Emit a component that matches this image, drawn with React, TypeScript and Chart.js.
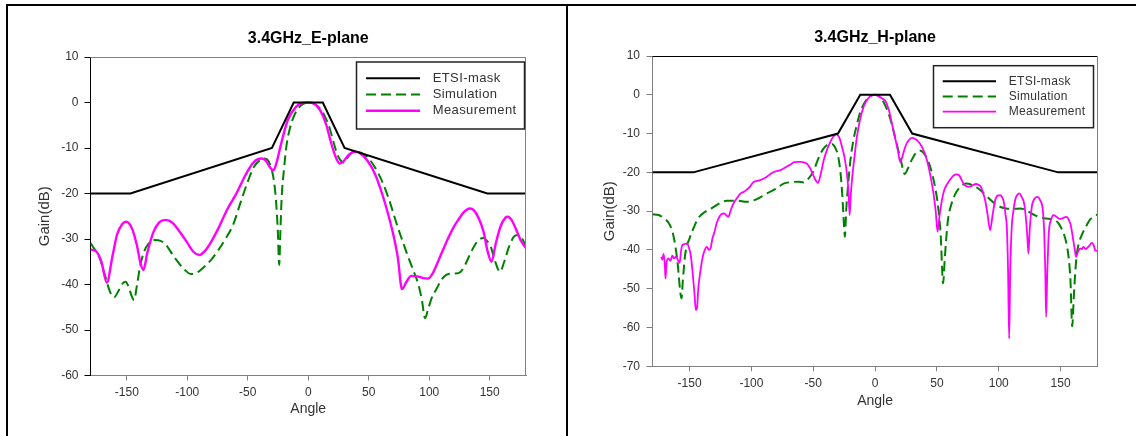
import { useEffect, useRef } from "react";
import { Chart, registerables } from "chart.js";

Chart.register(...registerables);

const FONT = "'Liberation Sans', Arial, Helvetica, sans-serif";

// ETSI radiation mask (angle in degrees, gain in dB)
const maskAngles = [-180, -147, -30, -12, 12, 30, 148, 180];
const maskGain = [-20, -20, -10, 0, 0, -10, -20, -20];

// E-plane, simulated pattern
const eSimAngles = [
  -180, -176, -172, -168, -164, -160.5, -157, -153.5, -151, -148.5, -146, -144, -141.5, -139, -136, -132,
  -127, -122, -117.5, -112, -107, -102, -97, -92, -86, -80, -74, -68, -62, -56, -50, -45, -40, -36, -33,
  -30.5, -28.5, -26.7, -25.2, -24, -23, -22, -20, -18, -15, -12, -8, -4, 0.5, 5, 10, 14, 17.5, 21, 24, 27,
  29.5, 32, 35.5, 39, 43, 49, 55, 61, 67, 73, 78, 82, 87, 91, 94, 96.5, 99, 102, 106, 110, 114, 118, 122,
  126, 130, 134, 138, 142, 145, 148, 151, 154, 158.5, 162, 166, 170, 173.5, 177, 180,
];
const eSimGain = [
  -30.9, -32.5, -34.5, -38, -41.5, -42.8, -41.5, -39.8, -39.4, -40.5, -42.5, -43.4, -40, -36, -33, -31,
  -30.2, -30.4, -31.3, -33.5, -35.3, -36.8, -37.7, -37.4, -36.1, -34.5, -32.3, -29.8, -26.8, -22, -17.4,
  -14.2, -12.7, -12.3, -12.8, -14.5, -17, -21.4, -28, -35.7, -28, -21, -14.5, -9.5, -5.5, -3.1, -1.2, -0.3,
  0, -0.3, -1.4, -3.2, -5.5, -8.8, -11.4, -12.8, -13.2, -12.3, -11.1, -10.8, -11, -12, -14.2, -17.3, -21.5,
  -26.6, -30.5, -33.5, -37, -40, -43.5, -47.4, -45.5, -43, -41, -39, -37.9, -37.6, -37.6, -37.2, -35.5,
  -33.2, -31.2, -30, -29.8, -30.5, -31.8, -34.5, -37.2, -35, -31.7, -29.5, -29.1, -30, -31.7,
];

// E-plane, measured pattern
const eMeasAngles = [
  -180, -175, -171, -166.5, -162, -158, -154, -150.5, -146, -142, -138.5, -136.3, -133, -128, -123, -118,
  -112, -106, -100, -95, -90, -85, -80, -74, -67, -59, -52, -46, -42, -38.5, -35, -31.5, -29, -26.5, -23,
  -17, -10, -5, 0, 5, 10, 15, 18, 22, 26, 29, 33, 37, 40, 44, 49, 55, 61, 66, 70, 74, 77.5, 81, 85, 90, 95,
  99, 103, 108, 115, 120, 124, 129, 133.5, 137, 141, 145, 148, 151.5, 155, 159, 163, 165, 168, 172, 176, 180,
];
const eMeasGain = [
  -32.3, -32.8, -35, -39.6, -34, -29, -26.8, -26.2, -27.5, -31, -35.5, -36.8, -33, -28.5, -26.3, -25.8,
  -26.5, -28.5, -30.8, -32.8, -33.5, -32.5, -30.5, -27.5, -23.5, -19.8, -16, -13.4, -12.5, -12.3, -12.8,
  -14.3, -14.9, -13.5, -9.7, -3.9, -0.9, -0.1, 0, -0.3, -1.8, -5, -8, -11.5, -13.4, -13, -11.6, -10.9,
  -10.8, -11.4, -12.8, -15.6, -20, -24.5, -28.7, -34, -41, -39.5, -38.1, -38.2, -38.6, -38.7, -37.5, -34.5,
  -30.2, -27.5, -25.8, -24, -23.3, -23.7, -25.5, -28.5, -32.4, -35, -31, -27.2, -25.3, -25.1, -25.8, -28,
  -30.5, -32,
];

// H-plane, simulated pattern
const hSimAngles = [
  -180, -175, -171, -167, -164, -161.5, -159.5, -157.5, -156.5, -155.5, -153.5, -150, -147, -143, -138,
  -132, -126.5, -120, -112, -103.5, -95, -87.4, -80, -74, -67, -62, -58, -55, -50, -46, -42, -38, -35, -32,
  -30, -28, -26.5, -25.3, -24.4, -23.4, -22, -20, -17.6, -15, -12, -9, -6, -3, 0, 3, 6, 9, 12, 15, 18, 21,
  24, 26.5, 29.4, 33, 36.8, 40, 42.6, 45, 48.5, 51, 53, 55, 56.2, 57.4, 59, 61.8, 64.5, 67.6, 73.5, 79.4,
  84, 88.2, 93, 97, 102, 106, 112, 117.6, 123, 129.4, 134, 138.2, 142, 145.6, 148, 150, 152.5, 154.5,
  156.5, 158, 159.4, 160.7, 162, 163.2, 165, 167.6, 170, 173.5, 177, 180,
];
const hSimGain = [
  -30.8, -31, -31.8, -33, -35.2, -39, -44, -51, -52.5, -48, -41, -37, -34.5, -31.8, -30.3, -29.2, -28.1,
  -27.3, -27.3, -27.6, -26.8, -25.4, -24.2, -22.9, -22.5, -22.4, -22.6, -22, -19.8, -16.5, -14, -12.8,
  -12.7, -13.8, -15.7, -20, -26, -33, -36.6, -30, -23.8, -17, -11.8, -8, -4.5, -2.3, -0.9, -0.2, 0, -0.3,
  -1.4, -3.3, -5.9, -9.5, -13.3, -17.2, -20.4, -19, -16.9, -15, -14.4, -15.3, -16.9, -19, -23.8, -29, -36,
  -48.6, -43, -37.5, -32, -28.1, -25.8, -24.2, -22.9, -23.4, -24.3, -25.5, -27, -28.1, -29, -29.3, -29.4,
  -29.3, -30, -31.1, -31.6, -31.9, -32, -32.3, -33, -34, -35.8, -38, -42, -48, -59.7, -52, -45, -40.9, -38,
  -35.8, -34.3, -32.3, -31.4, -30.8,
];

// H-plane, measured pattern (starts at -173 degrees)
const hMeasAngles = [
  -173, -172, -171, -170, -169.5, -168.5, -167, -165.5, -164, -162.5, -161, -159.5, -158, -157, -156, -154,
  -152, -150.5, -149, -147.5, -146, -145, -144, -143, -141.5, -139.5, -138, -136, -134.5, -133, -131.5,
  -130, -128, -126, -124, -122, -120, -118.5, -117, -115, -112, -109, -106, -103.5, -101, -98, -95, -93,
  -90, -87, -84, -82, -79, -76.5, -74, -71, -68, -66, -63, -60, -57, -55, -53, -51, -48.5, -46.2, -44,
  -41.5, -38.5, -36, -34, -31.4, -29, -26.8, -24.5, -22.8, -21.5, -20.6, -19.7, -18.7, -16.5, -14.7, -12,
  -9.3, -6, -3, 0, 3, 6, 8.3, 11, 13.6, 16, 18.5, 20.3, 22, 24.4, 27, 29.8, 32.5, 35.1, 38.5, 41.9, 44.5,
  47.2, 49, 50.5, 52, 54, 56, 58.5, 61, 63.5, 65.6, 68, 71.5, 74, 76.9, 79, 81.7, 83.5, 85.5, 87.5, 89, 91,
  93, 95, 97.1, 99, 101.1, 103, 104.3, 105.5, 106.5, 107.5, 108.4, 109.3, 110.5, 111.8, 113.2, 115, 116.7,
  118.5, 120.5, 122, 123, 124, 125, 126.7, 128.5, 131.2, 133.5, 135.6, 136.8, 137.6, 138.3, 139.2, 140.2,
  140.9, 142.5, 144.2, 146.9, 149, 150.9, 153, 155, 157, 158.2, 160, 161.5, 162.5, 164, 165.7, 167, 168.4,
  170, 171.1, 173, 175.2, 177, 178, 180,
];
const hMeasGain = [
  -41.8, -42.5, -41, -44, -47.4, -43, -42.2, -42.8, -41.5, -42.2, -41.7, -42.6, -43.3, -40.5, -38.8, -38.5,
  -38.3, -39.5, -41.5, -46, -51.5, -55.5, -55, -50, -46, -42, -40.2, -39.2, -40, -39.5, -37, -35.5, -33,
  -31.5, -30.7, -30.6, -31.2, -31.4, -30, -28.3, -26.8, -25.5, -25, -24.4, -23.6, -22.4, -22.2, -22,
  -21.6, -21, -20.3, -19.9, -19.6, -19.4, -19, -18.4, -17.9, -17.4, -17.3, -17.3, -17.5, -17.8, -18.7,
  -20, -21.8, -22.7, -20.5, -16.8, -13.8, -12, -10.9, -10.2, -11, -13.4, -16.5, -20.3, -25, -31, -26,
  -22, -15.5, -10.8, -6.2, -3.1, -1.1, -0.2, 0, -0.4, -1, -1.6, -3.8, -7.4, -10.8, -14.5, -17.3, -16,
  -13.4, -11.8, -11.1, -11.4, -12.1, -13.8, -16.8, -20.5, -25.4, -30, -35.3, -31.5, -27.2, -24.5, -22.9,
  -21.7, -20.8, -20.5, -20.8, -22.9, -23.6, -23.7, -23.3, -23, -23.2, -23.7, -25.5, -27.2, -31, -34.9,
  -31, -27.2, -26, -25.9, -26.6, -28, -31, -34, -45, -62.9, -45, -34, -30, -27.2, -25.8, -25.4, -26.3,
  -28, -32, -36, -40.9, -35, -28.9, -27, -26.3, -27.2, -29.7, -36, -45, -57.3, -46, -37, -34, -32, -31,
  -31.5, -32, -31.9, -31.6, -31.5, -32.5, -33.6, -37, -40, -41.8, -40.5, -39.6, -39.8, -39.2, -39.7,
  -39.6, -39, -38.2, -39, -40.2, -40.2,
];

// Axis ticks
const angleTicks = [-150, -100, -50, 0, 50, 100, 150];
const eGainTicks = [-60, -50, -40, -30, -20, -10, 0, 10];
const hGainTicks = [-70, -60, -50, -40, -30, -20, -10, 0, 10];

const seriesLabels = ["ETSI-mask", "Simulation", "Measurement"];

const toPoints = (xs: number[], ys: number[]) => xs.map((x, i) => ({ x, y: ys[i] }));

type PanelCfg = {
  title: string;
  left: number;
  width: number;
  padRight: number;
  yAxisWidth: number;
  xAxisHeight: number;
  titleTop: number;
  titleBottom: number;
  xTitleBottom: number;
  yTitleTop: number;
  yTickPad: number;
  yMin: number;
  yTicks: number[];
  yBorder: string;
  xBorder: string;
  topBorder: string;
  rightBorder: string;
  measWidth: number;
  sim: { x: number; y: number }[];
  meas: { x: number; y: number }[];
  legend: {
    x: number; y: number; w: number; h: number;
    firstY: number; gap: number;
    sx0: number; sx1: number; tx: number;
    fontSize: number; spacing: number;
  };
};

const panels: PanelCfg[] = [
  {
    title: "3.4GHz_E-plane",
    left: 8,
    width: 558,
    padRight: 40,
    yAxisWidth: 82.5,
    xAxisHeight: 60.5,
    titleTop: 29.4,
    titleBottom: 8.4,
    xTitleBottom: 18.6,
    yTitleTop: 27.4,
    yTickPad: 6,
    yMin: -60,
    yTicks: eGainTicks,
    yBorder: "#000000",
    xBorder: "#808080",
    topBorder: "#808080",
    rightBorder: "#808080",
    measWidth: 2.4,
    sim: toPoints(eSimAngles, eSimGain),
    meas: toPoints(eMeasAngles, eMeasGain),
    legend: {
      x: 348.5, y: 62, w: 168, h: 67,
      firstY: 78.3, gap: 16.2,
      sx0: 358, sx1: 412, tx: 424.7,
      fontSize: 13, spacing: 0.4,
    },
  },
  {
    title: "3.4GHz_H-plane",
    left: 568,
    width: 568,
    padRight: 38.3,
    yAxisWidth: 84.5,
    xAxisHeight: 69.7,
    titleTop: 28.4,
    titleBottom: 8.4,
    xTitleBottom: 26.6,
    yTitleTop: 33.2,
    yTickPad: 6.5,
    yMin: -70,
    yTicks: hGainTicks,
    yBorder: "#808080",
    xBorder: "#808080",
    topBorder: "#000000",
    rightBorder: "#808080",
    measWidth: 1.8,
    sim: toPoints(hSimAngles, hSimGain),
    meas: toPoints(hMeasAngles, hMeasGain),
    legend: {
      x: 365.5, y: 65.7, w: 160, h: 62,
      firstY: 81.3, gap: 15.2,
      sx0: 374.7, sx1: 428, tx: 440.7,
      fontSize: 12, spacing: 0.3,
    },
  },
];

// Draws the top/right edges of the plot frame and the boxed legend
const panelDecor = {
  id: "panelDecor",
  afterDraw(chart: any, _args: any, o: any) {
    const { ctx, chartArea: a } = chart;
    ctx.save();
    ctx.lineWidth = 1;
    ctx.strokeStyle = o.topBorder;
    ctx.beginPath();
    ctx.moveTo(a.left, Math.round(a.top) + 0.5);
    ctx.lineTo(a.right, Math.round(a.top) + 0.5);
    ctx.stroke();
    ctx.strokeStyle = o.rightBorder;
    ctx.beginPath();
    ctx.moveTo(Math.round(a.right) - 0.5, a.top);
    ctx.lineTo(Math.round(a.right) - 0.5, a.bottom);
    ctx.stroke();

    const L = o.legend;
    ctx.fillStyle = "#ffffff";
    ctx.fillRect(L.x, L.y, L.w, L.h);
    ctx.strokeStyle = "#222222";
    ctx.lineWidth = 1.5;
    ctx.strokeRect(L.x, L.y, L.w, L.h);

    o.legendOrder.forEach((dsIndex: number, i: number) => {
      const ds = chart.data.datasets[dsIndex];
      const y = L.firstY + i * L.gap;
      ctx.strokeStyle = ds.borderColor;
      ctx.lineWidth = ds.borderWidth;
      ctx.setLineDash(ds.borderDash || []);
      ctx.beginPath();
      ctx.moveTo(L.sx0, y);
      ctx.lineTo(L.sx1, y);
      ctx.stroke();
      ctx.setLineDash([]);
      ctx.fillStyle = "#333333";
      ctx.font = `${L.fontSize}px ${FONT}`;
      (ctx as any).letterSpacing = `${L.spacing}px`;
      ctx.textAlign = "left";
      ctx.textBaseline = "middle";
      ctx.fillText(ds.label, L.tx, y);
    });
    ctx.restore();
  },
};

function Panel({ cfg }: { cfg: PanelCfg }) {
  const ref = useRef<HTMLCanvasElement | null>(null);

  useEffect(() => {
    if (!ref.current) return;
    const chart = new Chart(ref.current, {
      type: "line",
      data: {
        datasets: [
          {
            label: seriesLabels[0],
            data: toPoints(maskAngles, maskGain),
            borderColor: "#000000",
            borderWidth: 2,
            pointRadius: 0,
            tension: 0,
            order: 0,
          },
          {
            label: seriesLabels[1],
            data: cfg.sim,
            borderColor: "#008000",
            borderWidth: 2,
            borderDash: [10, 5],
            pointRadius: 0,
            cubicInterpolationMode: "monotone",
            order: 2,
          },
          {
            label: seriesLabels[2],
            data: cfg.meas,
            borderColor: "#ff00ff",
            borderWidth: cfg.measWidth,
            pointRadius: 0,
            cubicInterpolationMode: "monotone",
            order: 1,
          },
        ],
      },
      options: {
        responsive: false,
        animation: false,
        events: [],
        layout: { padding: { left: 0, right: cfg.padRight, top: 0, bottom: 0 } },
        plugins: {
          legend: { display: false },
          tooltip: { enabled: false },
          title: {
            display: true,
            text: cfg.title,
            fullSize: false,
            color: "#000000",
            font: { family: FONT, size: 16, weight: "bold", lineHeight: 1.2 },
            padding: { top: cfg.titleTop, bottom: cfg.titleBottom },
          },
          panelDecor: {
            topBorder: cfg.topBorder,
            rightBorder: cfg.rightBorder,
            legend: cfg.legend,
            legendOrder: [0, 1, 2],
          },
        } as any,
        scales: {
          x: {
            type: "linear",
            min: -180,
            max: 180,
            afterBuildTicks: (s: any) => {
              s.ticks = angleTicks.map((value) => ({ value }));
            },
            afterFit: (s: any) => {
              s.height = cfg.xAxisHeight;
            },
            grid: { drawOnChartArea: false, drawTicks: true, tickLength: 5, color: cfg.xBorder },
            border: { display: true, color: cfg.xBorder, width: 1 },
            ticks: { padding: 5, color: "#333333", font: { family: FONT, size: 12 }, maxRotation: 0 },
            title: {
              display: true,
              text: "Angle",
              color: "#333333",
              font: { family: FONT, size: 14, lineHeight: 1.2 },
              padding: { top: 0, bottom: cfg.xTitleBottom },
            },
          },
          y: {
            type: "linear",
            min: cfg.yMin,
            max: 10,
            afterBuildTicks: (s: any) => {
              s.ticks = cfg.yTicks.map((value) => ({ value }));
            },
            afterFit: (s: any) => {
              s.width = cfg.yAxisWidth;
            },
            grid: { drawOnChartArea: false, drawTicks: true, tickLength: 6, color: cfg.yBorder },
            border: { display: true, color: cfg.yBorder, width: 1 },
            ticks: { padding: cfg.yTickPad, color: "#333333", font: { family: FONT, size: 12 } },
            title: {
              display: true,
              text: "Gain(dB)",
              color: "#333333",
              font: { family: FONT, size: 15, lineHeight: 1.2 },
              padding: { top: cfg.yTitleTop, bottom: 0 },
            },
          },
        },
      },
      plugins: [panelDecor],
    });
    return () => chart.destroy();
  }, [cfg]);

  return (
    <div style={{ position: "absolute", left: cfg.left, top: 0, width: cfg.width, height: 436 }}>
      <canvas ref={ref} width={cfg.width} height={436} style={{ display: "block" }} />
    </div>
  );
}

export default function App() {
  return (
    <div
      style={{
        position: "fixed",
        left: 0,
        top: 0,
        width: 1136,
        height: 436,
        background: "#ffffff",
        overflow: "hidden",
      }}
    >
      {panels.map((p) => (
        <Panel key={p.title} cfg={p} />
      ))}
      {/* table-cell rules around the two panels */}
      <div style={{ position: "absolute", left: 6, top: 4, width: 1130, height: 2, background: "#000" }} />
      <div style={{ position: "absolute", left: 6, top: 4, width: 2, height: 432, background: "#000" }} />
      <div style={{ position: "absolute", left: 566, top: 4, width: 2, height: 432, background: "#000" }} />
    </div>
  );
}
